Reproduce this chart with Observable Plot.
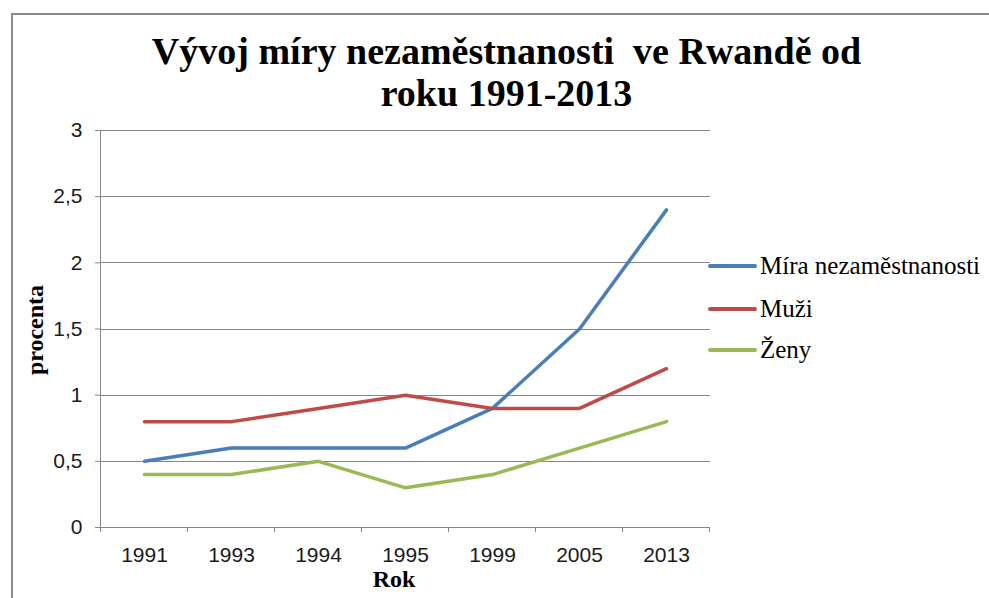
<!DOCTYPE html>
<html>
<head>
<meta charset="utf-8">
<script src="https://cdn.jsdelivr.net/npm/d3@7"></script>
<script src="https://cdn.jsdelivr.net/npm/@observablehq/plot@0.6"></script>
<style>
  html, body { margin: 0; padding: 0; background: #fff; }
  #wrap { position: relative; width: 989px; height: 598px; overflow: hidden; background: #fff; }
  #frame { position: absolute; left: 11px; top: 13px; width: 1000px; height: 620px;
           border-left: 2px solid #8a8a8a; border-top: 2px solid #8a8a8a; pointer-events: none; }
  #title { position: relative; height: 120px; box-sizing: border-box; padding-top: 30px; padding-left: 24px;
           text-align: center; font-family: "Liberation Serif", "Times New Roman", serif; font-weight: bold;
           font-size: 38px; line-height: 42px; color: #000; }
  #chart { position: relative; }
  .axislabel { position: absolute; font-family: "Liberation Serif", "Times New Roman", serif; font-weight: bold; color: #000; }
  #ylabel { left: 35px; top: 330px; font-size: 24px; line-height: 24px; transform: translate(-50%, -50%) rotate(-90deg); white-space: nowrap; }
  #xlabel { left: 394px; top: 579px; font-size: 24px; line-height: 18px; transform: translate(-50%, -50%); white-space: nowrap; }
  #legend { position: absolute; left: 708px; top: 0; font-family: "Liberation Serif", "Times New Roman", serif; font-size: 25px; color: #000; }
  .item { position: absolute; left: 0; display: flex; align-items: center; white-space: nowrap; transform: translateY(-50%); }
  .swatch { display: inline-block; width: 49px; height: 4px; border-radius: 2px; margin-right: 3px; }
  svg [aria-label^="y-axis"] line, svg [aria-label^="y-axis"] path { stroke: #868686; }
  svg [aria-label^="x-axis"] line, svg [aria-label^="x-axis"] path { stroke: none; }
</style>
</head>
<body>
<div id="wrap">
  <div id="title">Vývoj míry nezaměstnanosti&nbsp; ve Rwandě od<br>roku 1991-2013</div>
  <div id="chart"></div>
  <div id="ylabel" class="axislabel">procenta</div>
  <div id="xlabel" class="axislabel">Rok</div>
  <div id="legend"></div>
  <div id="frame"></div>
</div>
<script>
// ---- data ----
const years = ["1991", "1993", "1994", "1995", "1999", "2005", "2013"];
const seriesNames = ["Míra nezaměstnanosti", "Muži", "Ženy"];
const mira = [0.5, 0.6, 0.6, 0.6, 0.9, 1.5, 2.4];
const muzi = [0.8, 0.8, 0.9, 1.0, 0.9, 0.9, 1.2];
const zeny = [0.4, 0.4, 0.5, 0.3, 0.4, 0.6, 0.8];
const yTicks = [0, 0.5, 1, 1.5, 2, 2.5, 3];
const colors = ["#4A7EBB", "#BE4B48", "#98B954"];

const seriesValues = [mira, muzi, zeny];
const data = [];
seriesNames.forEach((name, s) => {
  years.forEach((yr, i) => data.push({series: name, year: yr, value: seriesValues[s][i]}));
});

// axis lines and category-boundary ticks (Excel style), positioned through Plot scales
function axisLines(index, scales) {
  const x = scales.x, y = scales.y;
  const step = x(years[1]) - x(years[0]);
  const edges = years.map(d => x(d) - step / 2).concat([x(years[years.length - 1]) + step / 2]);
  const g = d3.create("svg:g").attr("stroke", "#868686").attr("stroke-width", 1).attr("shape-rendering", "crispEdges");
  g.append("line").attr("x1", edges[0]).attr("x2", edges[0])
    .attr("y1", y(yTicks[yTicks.length - 1])).attr("y2", y(0));
  edges.forEach(e => g.append("line").attr("x1", e).attr("x2", e).attr("y1", y(0)).attr("y2", y(0) + 5));
  return g.node();
}

const chart = Plot.plot({
  width: 989,
  height: 478,
  marginTop: 10,
  marginBottom: 71,
  marginLeft: 100,
  marginRight: 279,
  style: {fontFamily: "'Liberation Sans', Arial, sans-serif", fontSize: "21px", color: "#1a1a1a", background: "transparent", overflow: "visible"},
  x: {type: "point", domain: years, padding: 0.5, tickSize: 0, tickPadding: 20, label: null},
  y: {domain: [0, 3], ticks: yTicks, tickSize: 5, tickPadding: 13, label: null,
      tickFormat: d => String(d).replace(".", ",")},
  color: {domain: seriesNames, range: colors},
  marks: [
    Plot.ruleY(yTicks, {stroke: "#868686", strokeWidth: 1, shapeRendering: "crispEdges"}),
    axisLines,
    Plot.line(data, {x: "year", y: "value", stroke: "series", z: "series", strokeWidth: 3.5,
      strokeLinejoin: "round", strokeLinecap: "round"})
  ]
});
document.getElementById("chart").appendChild(chart);

// legend
const legendY = [266, 309, 350];
const legend = document.getElementById("legend");
seriesNames.forEach((name, i) => {
  const item = document.createElement("div");
  item.className = "item";
  item.style.top = legendY[i] + "px";
  const sw = document.createElement("span");
  sw.className = "swatch";
  sw.style.background = colors[i];
  const tx = document.createElement("span");
  tx.textContent = name;
  item.appendChild(sw);
  item.appendChild(tx);
  legend.appendChild(item);
});
</script>
</body>
</html>
